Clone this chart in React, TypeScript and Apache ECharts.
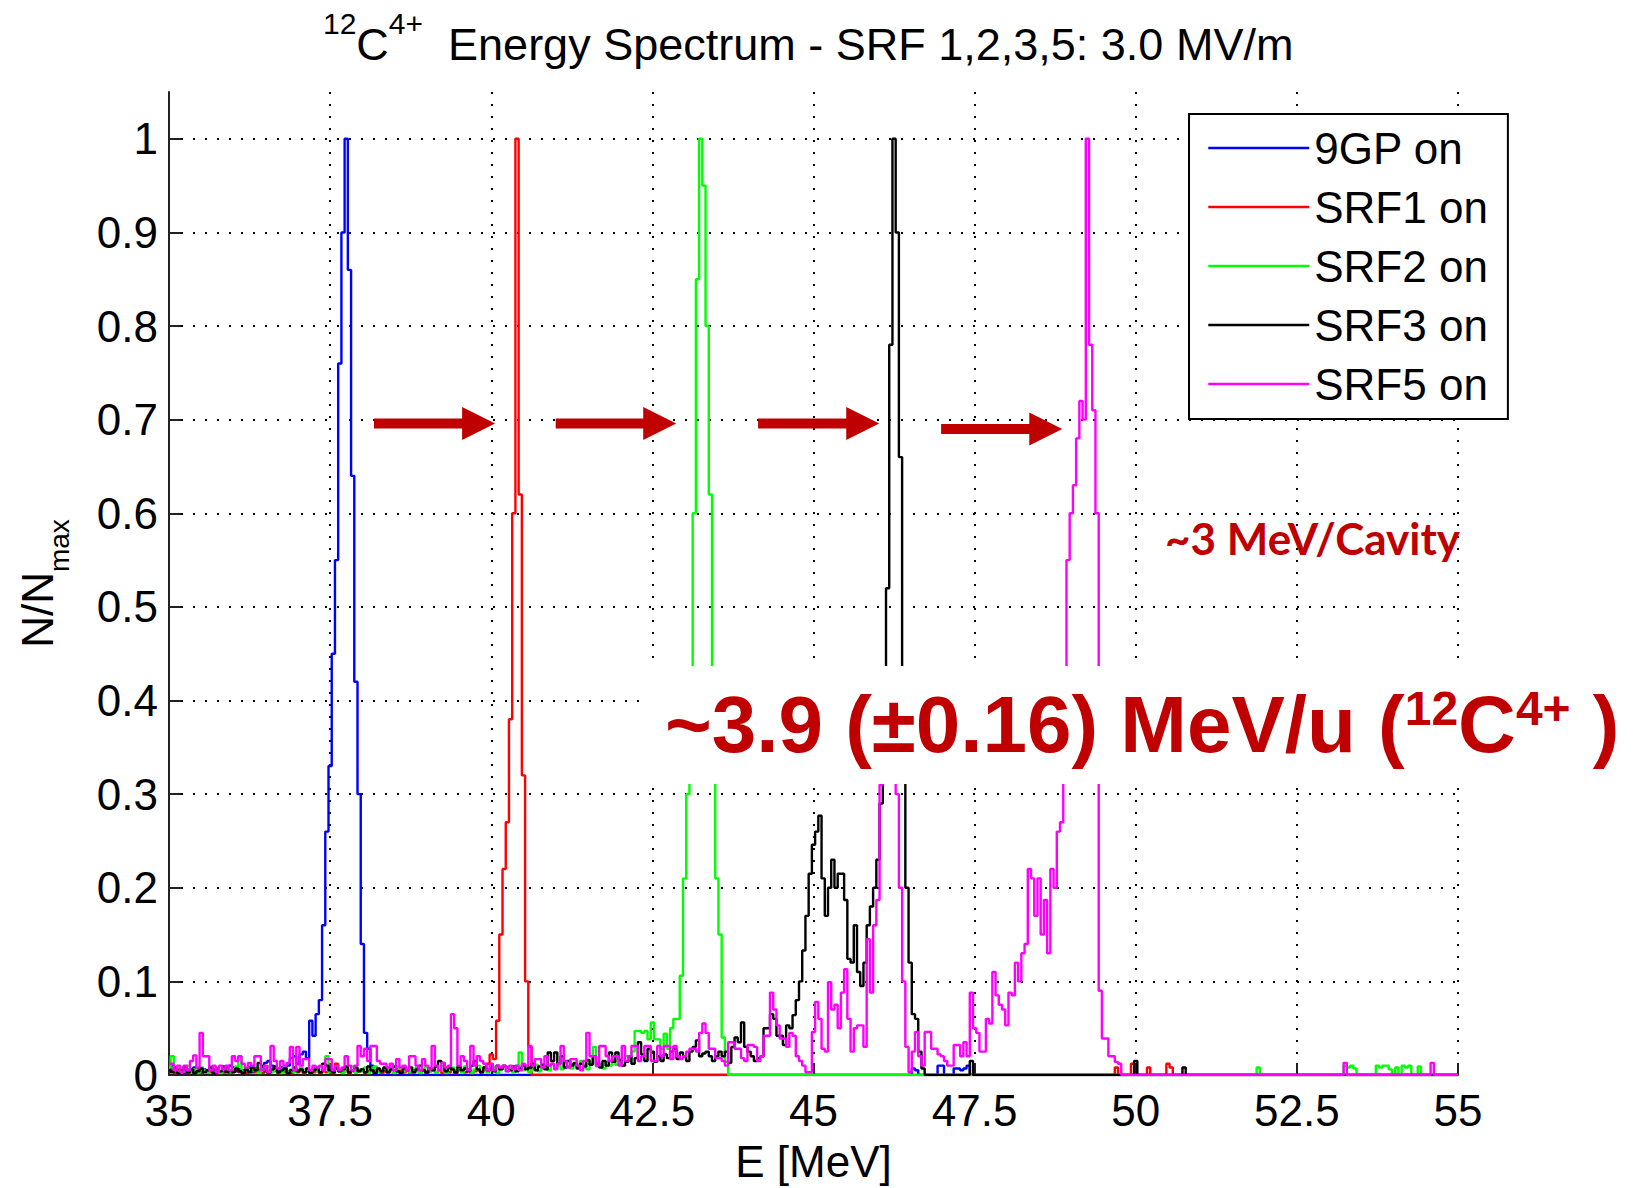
import React, { useEffect, useRef } from "react";
import * as echarts from "echarts";

// ---------- axes ----------
const X_MIN = 35;
const X_MAX = 55;
const X_STEP = 2.5;
const Y_MIN = 0;
const Y_MAX = 1.05;
const Y_STEP = 0.1;
const BIN = 0.05; // MeV, histogram bin width

const FONT = "'Liberation Sans', Arial, Helvetica, sans-serif";
const RED_ANN = "#C00000";

const seriesNames = ["9GP on", "SRF1 on", "SRF2 on", "SRF3 on", "SRF5 on"];
const seriesColors = ["#0000ff", "#ff0000", "#00ff00", "#000000", "#ff00ff"];

// ---------- data: counts in % of N_max, on a 0.05 MeV grid ----------
// 9GP on
const blueStart = 35.0;
const blueMain = [
  0.5, 1.0, 0.8, 0.3, 0.5, 0.2, 0.6, 0.3, 0.8, 0.4, 0.2, 0.6, 0.3, 0.5, 0.2, 0.7, 0.4, 0.3, 0.8, 1.0,
  0.8, 0.4, 0.6, 0.3, 0.5, 0.8, 0.3, 0.6, 0.5, 0.8, 1.3, 1.5, 1.0, 0.6, 0.4, 0.8, 0.6, 1.0, 1.8, 2.0,
  1.2, 2.2, 2.5, 1.8, 5.8, 4.2, 6.5, 8, 16, 26, 33, 45, 55, 76, 90, 100, 86, 64, 42, 30,
  14, 4.5, 2.8, 1.0, 0,
];
const blueTailStart = 46.5;
const blueTail = [0, 0.7, 0.5, 0, 0, 0, 0, 0, 0, 1, 1, 0, 0, 0, 0.7, 0.7, 0.5, 0.7, 1, 0];

// SRF1 on
const redStart = 35.0;
const redMain = [
  0.3, 0.5, 0.2, 0.6, 0.3, 0.4, 0.2, 0.5, 0.3, 0.6, 0.2, 0.4, 0.5, 0.3, 0.6, 0.2, 0.4, 0.3, 0.5, 0.2,
  0.4, 0.6, 0.3, 0.5, 0.2, 0.4, 0.6, 0.3, 0.5, 0.2, 0.6, 0.3, 0.4, 0.5, 0.2, 0.6, 0.3, 0.4, 0.2, 0.5,
  0.3, 0.6, 0.2, 0.4, 0.5, 0.3, 0.6, 0.2, 0.4, 0.3, 0.5, 0.2, 1.2, 0.4, 0.3, 0.6, 0.2, 0.5, 0.3, 0.4,
  0.6, 0.2, 0.4, 0.5, 0.3, 0.6, 0.2, 0.4, 0.3, 0.5, 0.2, 0.6, 0.4, 0.3, 0.5, 0.2, 0.4, 0.6, 0.3, 0.5,
  0.2, 0.4, 0.6, 0.3, 0.5, 0.2, 0.4, 0.3, 0.6, 0.2, 0.5, 0.4, 0.3, 0.6, 0.2, 0.4, 0.5, 0.3, 0.8, 1.2,
  2.2, 1.7, 5.8, 15, 22, 27, 38, 60, 100, 62, 32, 10, 3, 0,
];
const redTailStart = 49.65;
const redTail = [0, 0.8, 0, 0, 0, 0, 1.2, 0, 0, 0, 0, 0.8, 0, 0, 0, 0, 0, 1.2, 0.8, 0];

// SRF2 on
const greenStart = 35.0;
const greenMain = [
  0.8, 2, 0.5, 0.3, 0.7, 0.4, 1.0, 0.3, 0.6, 0.2, 0.8, 0.5, 0.3, 0.9, 0.4, 0.6, 0.2, 0.7, 0.5, 0.3,
  0.6, 0.9, 2, 0.4, 0.7, 0.3, 0.5, 0.8, 0.2, 0.6, 0.4, 0.9, 0.3, 0.5, 0.7, 0.2, 0.8, 0.4, 0.6, 0.3,
  0.5, 0.8, 0.3, 0.6, 0.2, 0.7, 0.4, 0.9, 0.5, 2, 0.3, 0.6, 0.8, 0.4, 0.2, 0.7, 0.5, 0.9, 0.3, 0.6,
  0.4, 0.8, 0.2, 0.6, 0.9, 0.3, 0.5, 0.7, 0.4, 0.8, 0.2, 0.6, 0.9, 0.4, 0.7, 0.3, 0.5, 0.8, 0.2, 0.6,
  0.9, 0.4, 0.7, 0.3, 0.5, 1.0, 0.2, 0.6, 0.8, 0.4, 0.7, 0.3, 0.9, 0.5, 0.2, 0.6, 1.0, 0.4, 0.7, 0.3,
  0.5, 0.8, 0.2, 0.6, 0.9, 0.4, 0.7, 0.3, 1.0, 2.4, 0.5, 0.8, 0.3, 0.6, 1.1, 0.4, 0.7, 0.9, 0.5, 1.2,
  0.8, 1.0, 0.6, 1.3, 0.9, 0.7, 1.2, 0.8, 1.5, 1.0, 0.6, 1.3, 3, 0.9, 1.2, 0.7, 1.4, 1.0, 1.6, 1.1,
  1.5, 1, 2, 1.5, 2.5, 4.7, 4.7, 4.5, 4.7, 3.8, 5.6, 3.8, 3.8, 2.8, 4.4, 2.8, 5, 6, 6, 10.6,
  21, 30, 42, 60, 85, 100, 95, 80, 62, 40, 21, 15, 4, 1.4, 0,
];
const greenTail1Start = 51.85;
const greenTail1 = [0, 0.8, 0];
const greenTail2Start = 53.2;
const greenTail2 = [0, 1, 0.8, 1, 0.7, 0, 0, 0, 0, 0, 0, 1, 0.8, 1, 1, 0.6, 0, 0.8, 0, 1, 0.8, 1, 0, 0, 0.9, 0];

// SRF3 on
const blackStart = 35.0;
const blackMain = [
  0.5, 0.3, 0.8, 0.2, 0.5, 0.9, 0.3, 0.6, 0.2, 0.4, 0.7, 0.3, 0.5, 0.8, 0.2, 0.6, 0.4, 0.9, 0.3, 0.5,
  0.3, 0.7, 0.4, 0.2, 0.6, 0.3, 0.8, 0.5, 1.3, 1.0, 0.4, 0.2, 0.6, 0.9, 0.3, 0.5, 0.7, 0.2, 0.5, 0.8,
  0.4, 0.6, 0.3, 0.7, 0.2, 0.5, 0.8, 0.3, 1.2, 1.0, 0.5, 0.3, 0.7, 0.4, 0.6, 0.9, 0.3, 0.5, 0.8, 0.4,
  0.6, 0.3, 0.9, 0.5, 0.2, 0.7, 0.4, 0.8, 0.3, 0.6, 0.9, 0.4, 0.2, 0.7, 0.5, 0.8, 0.3, 0.6, 1.0, 0.5,
  0.3, 0.7, 0.5, 0.9, 1.5, 1.3, 0.4, 0.8, 0.6, 0.3, 0.9, 0.5, 0.7, 0.4, 1.0, 1.5, 0.6, 0.3, 0.8, 0.5,
  0.7, 0.4, 1.0, 0.6, 1.0, 0.8, 0.5, 0.9, 0.4, 0.7, 1.0, 0.6, 0.8, 1.2, 0.5, 0.9, 1.1, 0.6, 2.4, 1.5,
  2.4, 1.2, 2.0, 0.8, 1.5, 1.0, 1.3, 0.7, 1.2, 0.9, 1.6, 1.1, 2.0, 1.2, 0.8, 1.5, 1.0, 2.4, 1.4, 2.4,
  1.6, 1.0, 1.4, 2.0, 1.2, 1.8, 3.5, 2.2, 1.5, 2.8, 2.5, 1.4, 2.0, 1.5, 2.2, 1.8, 2.5, 2.8, 1.7, 2.4,
  2, 1.5, 2.5, 3, 3.7, 2, 2.3, 2.5, 2, 1.5, 2, 2.5, 2, 2.5, 1.3, 3, 4, 3.5, 5.6, 3,
  2.5, 2, 1.5, 1.8, 2, 5, 5, 6.5, 6, 4.2, 4.2, 3.2, 5.3, 5, 6.4, 8, 10, 13.3, 17, 21.5,
  24.6, 26, 27.7, 21, 17, 20, 23, 20, 21.5, 21.5, 18.7, 12.4, 12, 16, 11, 9.5, 12, 16, 18, 20,
  23, 29, 40, 52, 78, 100, 90, 66, 33, 20, 12, 6.5, 6, 2.5, 0.7, 0,
];
const blackTail1Start = 47.4;
const blackTail1 = [0, 1.5, 0];
const blackTail2Start = 49.95;
const blackTail2 = [0, 1.5, 0];
const blackTail3Start = 50.7;
const blackTail3 = [0, 0.8, 0];

// SRF5 on
const magentaStart = 35.0;
const magentaMain = [
  1.2, 1.2, 0.5, 1, 0.3, 1, 0.5, 1.5, 2.1, 0.8, 4.5, 2, 2, 0.5, 1, 0.3, 1, 0.6, 1, 0.5,
  2, 1.5, 2, 1.2, 0.8, 1.3, 1, 2, 2, 0.5, 1, 0.3, 3.1, 1.5, 0.7, 1.5, 1, 1.3, 3, 0.5,
  3, 1, 1.7, 1.7, 0.5, 1, 0.8, 1, 0.5, 1.7, 1.7, 0.5, 1, 0.5, 0.8, 2, 1, 0.5, 1, 3.1,
  2, 2.8, 1.5, 3.1, 3.1, 1.5, 1.2, 1.2, 0.8, 1.2, 0.5, 1.7, 0.8, 1, 0.5, 2, 2, 1, 0.5, 1.7,
  1, 0.6, 3.1, 1, 0.5, 1.3, 0.8, 1, 6.5, 5, 1, 2, 1.5, 0.5, 3.1, 1, 2, 1.5, 1.2, 0.5,
  1.2, 0.5, 1, 0.8, 1, 0.4, 1, 0.6, 1, 0.5, 1.2, 1, 3.1, 1, 1.7, 1.7, 0.8, 2, 1, 1.2,
  0.6, 1.2, 3.1, 1.5, 0.8, 1.7, 1.7, 1, 0.5, 1.5, 4.5, 2, 2, 1, 3.1, 3.1, 2, 1.5, 2, 2,
  1, 3.1, 1.5, 2, 3.1, 3.1, 1.5, 2, 3.1, 3.1, 1.5, 1.5, 3.1, 2, 3.1, 3.1, 1.7, 3.1, 2, 1.7,
  2, 2.5, 2.8, 2.8, 2.5, 4.5, 5.5, 4.5, 2.8, 2.8, 1.8, 1.8, 1.5, 1, 3.5, 3.5, 2.8, 2.8, 1.8, 1.5,
  3.2, 3.2, 3, 1.5, 2, 4.2, 4.2, 8.8, 7, 5.3, 3.9, 3.9, 3, 4.5, 4.2, 2, 1.5, 1, 0.3, 0.3,
  4.6, 7.8, 6, 2.8, 2.5, 9.9, 7, 7.5, 5, 8.8, 11.3, 6, 2.5, 5, 5.3, 5.3, 3, 14.5, 8.8, 16,
  18.7, 31, 36, 38, 36, 33, 30, 20, 10, 3, 0.3, 2.5, 4.6, 2, 1, 4.6, 4.6, 2.8, 2.8, 2.2,
  2, 1.5, 1, 1, 3.2, 3.2, 2, 3.5, 2, 8.8, 5, 4.5, 2.5, 2.5, 6, 5.5, 11, 8.5, 7.5, 7,
  5.3, 8.8, 8.5, 12, 10, 13, 14, 22, 21, 17, 21, 15, 18.7, 13, 22, 20, 26, 27, 42, 55,
  60, 63, 68, 72, 70, 100, 78, 71, 60, 9, 3.9, 3.9, 2, 2, 1.4, 1.2, 0,
];
const magentaTail1Start = 53.2;
const magentaTail1 = [0, 1.3, 0];
const magentaTail2Start = 54.55;
const magentaTail2 = [0, 1.3, 0];

// the spectra end at zero at the right edge of the range
const endZeroStart = 55;
const endZero = [0];

type Seg = { start: number; vals: number[] };
const seriesSegments: Seg[][] = [
  [
    { start: blueStart, vals: blueMain },
    { start: blueTailStart, vals: blueTail },
    { start: endZeroStart, vals: endZero },
  ],
  [
    { start: redStart, vals: redMain },
    { start: redTailStart, vals: redTail },
    { start: endZeroStart, vals: endZero },
  ],
  [
    { start: greenStart, vals: greenMain },
    { start: greenTail1Start, vals: greenTail1 },
    { start: greenTail2Start, vals: greenTail2 },
    { start: endZeroStart, vals: endZero },
  ],
  [
    { start: blackStart, vals: blackMain },
    { start: blackTail1Start, vals: blackTail1 },
    { start: blackTail2Start, vals: blackTail2 },
    { start: blackTail3Start, vals: blackTail3 },
    { start: endZeroStart, vals: endZero },
  ],
  [
    { start: magentaStart, vals: magentaMain },
    { start: magentaTail1Start, vals: magentaTail1 },
    { start: magentaTail2Start, vals: magentaTail2 },
    { start: endZeroStart, vals: endZero },
  ],
];

// ---------- annotation arrows (data coordinates) ----------
const arrowTailE = [38.18, 41.0, 44.14, 46.98];
const arrowTipE = [40.06, 42.87, 46.02, 48.86];
const arrowLevel = [0.696, 0.696, 0.696, 0.69];

function buildData(segs: Seg[]): [number, number][] {
  const out: [number, number][] = [];
  segs.forEach((s) =>
    s.vals.forEach((v, i) => {
      out.push([Math.round((s.start + i * BIN) * 100) / 100, v / 100]);
    })
  );
  return out;
}

export default function App() {
  const ref = useRef<HTMLDivElement>(null);

  useEffect(() => {
    document.body.style.margin = "0";
    const el = ref.current!;
    const chart = echarts.init(el, undefined, { renderer: "svg" });

    const gridDots = { type: [2, 10] as any, color: "#000", width: 2, cap: "butt" as const };

    chart.setOption({
      animation: false,
      backgroundColor: "#fff",
      title: {
        text: "{s|12}{n|C}{s|4+}{n|  Energy Spectrum - SRF 1,2,3,5: 3.0 MV/m}",
        left: 323,
        top: 8,
        padding: 0,
        textStyle: {
          fontFamily: FONT,
          color: "#000",
          fontWeight: "normal",
          rich: {
            n: { fontFamily: FONT, fontSize: 45, color: "#000", padding: [14, 0, 0, 0], verticalAlign: "bottom" },
            s: { fontFamily: FONT, fontSize: 30, color: "#000", verticalAlign: "top" },
          },
        },
      },
      legend: {
        orient: "vertical",
        left: 1189,
        top: 114,
        padding: [12, 20, 13, 18],
        itemGap: 15,
        itemWidth: 101,
        itemHeight: 2,
        backgroundColor: "#fff",
        borderColor: "#000",
        borderWidth: 2,
        borderRadius: 0,
        selectedMode: false,
        textStyle: { fontFamily: FONT, fontSize: 44, color: "#000", lineHeight: 44 },
        lineStyle: { width: 2.5 },
        itemStyle: { opacity: 0 },
        data: seriesNames,
        z: 20,
      },
      grid: { left: 169, right: 177, top: 92, bottom: 112, containLabel: false },
      xAxis: {
        type: "value",
        min: X_MIN,
        max: X_MAX,
        interval: X_STEP,
        name: "E [MeV]",
        nameLocation: "middle",
        nameGap: 64,
        nameTextStyle: { fontFamily: FONT, fontSize: 44, color: "#000" },
        axisLine: { show: true, onZero: false, lineStyle: { color: "#222", width: 2 } },
        axisTick: { show: true, inside: true, length: 12, lineStyle: { color: "#222", width: 2 } },
        axisLabel: { margin: 13, fontFamily: FONT, fontSize: 44, color: "#000" },
        splitLine: { show: true, showMinLine: false, showMaxLine: true, lineStyle: gridDots },
      },
      yAxis: {
        type: "value",
        min: Y_MIN,
        max: Y_MAX,
        interval: Y_STEP,
        name: "{n|N/N}{m|max}",
        nameLocation: "middle",
        nameRotate: 90,
        nameGap: 96,
        nameTextStyle: {
          fontFamily: FONT,
          color: "#000",
          rich: {
            n: { fontFamily: FONT, fontSize: 44, color: "#000", padding: [0, 0, 14, 0], verticalAlign: "bottom" },
            m: { fontFamily: FONT, fontSize: 28, color: "#000", verticalAlign: "bottom" },
          },
        },
        axisLine: { show: true, onZero: false, lineStyle: { color: "#222", width: 2 } },
        axisTick: { show: true, inside: true, length: 12, lineStyle: { color: "#222", width: 2 } },
        axisLabel: { showMaxLabel: false, margin: 11, fontFamily: FONT, fontSize: 44, color: "#000" },
        splitLine: { show: true, showMinLine: false, showMaxLine: false, lineStyle: gridDots },
      },
      series: seriesSegments.map((segs, k) => ({
        name: seriesNames[k],
        type: "line",
        step: "middle",
        data: buildData(segs),
        showSymbol: false,
        symbol: "none",
        silent: true,
        clip: true,
        lineStyle: { width: 2.4, color: seriesColors[k] },
        itemStyle: { color: seriesColors[k] },
        emphasis: { disabled: true },
      })),
    });

    const toPx = (e: number, v: number) => chart.convertToPixel({ gridIndex: 0 }, [e, v]) as number[];
    const arrows = arrowTailE.map((t, i) => {
      const [x0, y] = toPx(t, arrowLevel[i]);
      const [x1] = toPx(arrowTipE[i], arrowLevel[i]);
      const head = 33;
      const hw = 16.5;
      const sw = 5;
      const xb = x1 - head;
      return {
        type: "polygon",
        z: 50,
        silent: true,
        shape: {
          points: [
            [x0, y - sw],
            [xb, y - sw],
            [xb, y - hw],
            [x1, y],
            [xb, y + hw],
            [xb, y + sw],
            [x0, y + sw],
          ],
        },
        style: { fill: RED_ANN },
      };
    });

    chart.setOption({
      graphic: [
        ...arrows,
        {
          type: "rect",
          z: 60,
          silent: true,
          shape: { x: 648, y: 666, width: 987, height: 118 },
          style: { fill: "#fff" },
        },
        {
          type: "text",
          z: 61,
          silent: true,
          x: 665,
          y: 724,
          style: {
            text: "{a|~3.9 (±0.16) MeV/u (}{s|12}{a|C}{s|4+}{a| )}",
            verticalAlign: "middle",
            align: "left",
            rich: {
              a: { fontFamily: FONT, fontSize: 80, fontWeight: "bold", fill: RED_ANN, verticalAlign: "bottom" },
              s: { fontFamily: FONT, fontSize: 48, fontWeight: "bold", fill: RED_ANN, verticalAlign: "top" },
            },
          },
        },
        {
          type: "text",
          z: 61,
          silent: true,
          x: 1165,
          y: 538,
          style: {
            text: "~3 MeV/Cavity",
            fontFamily: "Lato, 'Open Sans', sans-serif",
            fontSize: 44,
            fontWeight: "bold",
            fill: RED_ANN,
            verticalAlign: "middle",
            align: "left",
          },
        },
      ],
    });

    return () => chart.dispose();
  }, []);

  return <div ref={ref} style={{ position: "fixed", left: 0, top: 0, width: 1635, height: 1188 }} />;
}
